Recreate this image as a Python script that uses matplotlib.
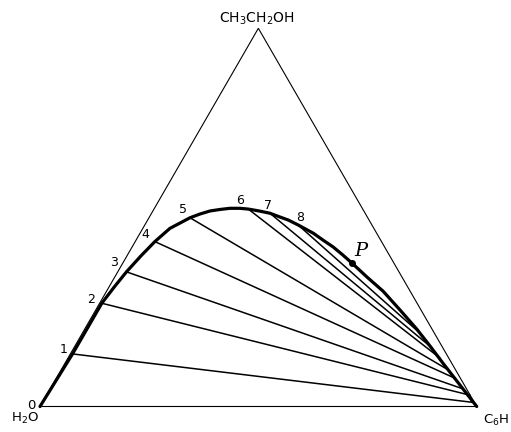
import matplotlib.pyplot as plt
import numpy as np

# binodal curve, in % ethanol and % benzene (water is the rest)
curve_ethanol = [0.0, 13.9, 27.3, 31.6, 35.6, 39.8, 43.6, 47.1, 49.9, 50.9, 51.7,
                 52.1, 52.4, 52.4, 52.2, 51.7, 51.1, 50.1, 49.3, 48.0, 45.8, 44.0,
                 42.2, 40.2, 37.9, 34.2, 30.5, 25.5, 20.5, 16.0, 11.4, 5.7, 0.0]
curve_benzene = [0.0, 0.5, 0.5, 1.2, 2.0, 3.2, 4.5, 6.2, 9.4, 11.2, 13.1,
                 15.2, 17.3, 19.6, 21.6, 24.3, 27.1, 29.9, 32.2, 35.1, 39.7, 42.8,
                 46.0, 49.1, 52.5, 57.8, 63.3, 69.7, 76.0, 81.3, 86.6, 93.3, 100.0]

# tie lines: water-rich end (numbered points) and benzene-rich end
tie_labels = ["1", "2", "3", "4", "5", "6", "7", "8"]
tie_left_ethanol = [13.9, 27.3, 35.6, 43.6, 49.9, 52.2, 51.1, 48.0]
tie_left_benzene = [0.5, 0.5, 2.0, 4.5, 9.4, 21.6, 27.1, 35.1]
tie_right_ethanol = [1.1, 3.0, 4.7, 7.5, 9.9, 12.8, 15.5, 19.4]
tie_right_benzene = [98.5, 96.9, 94.4, 91.2, 88.2, 85.2, 82.0, 77.3]

# plait point P
plait_ethanol = 37.9
plait_benzene = 52.5

# corners: water, benzene, ethanol
corner_ethanol = [0, 0, 100, 0]
corner_benzene = [0, 100, 0, 0]


def to_xy(ethanol, benzene):
    e = np.asarray(ethanol, dtype=float) / 100.0
    b = np.asarray(benzene, dtype=float) / 100.0
    return b + e / 2.0, e * np.sqrt(3) / 2.0


fig = plt.figure(figsize=(5.11, 4.32), dpi=100)
ax = fig.add_axes([0, 0, 1, 1])
ax.set_xlim(-0.0916, 1.0785)
ax.set_ylim(-0.0584, 0.9308)
ax.axis("off")

# triangle
tx, ty = to_xy(corner_ethanol, corner_benzene)
ax.plot(tx, ty, color="black", lw=0.8, solid_joinstyle="miter")

# tie lines
lx, ly = to_xy(tie_left_ethanol, tie_left_benzene)
rx, ry = to_xy(tie_right_ethanol, tie_right_benzene)
for i in range(len(tie_labels)):
    ax.plot([lx[i], rx[i]], [ly[i], ry[i]], color="black", lw=1.1)

# binodal curve
cx, cy = to_xy(curve_ethanol, curve_benzene)
ax.plot(cx, cy, color="black", lw=2.3, solid_joinstyle="round", solid_capstyle="round")

# point labels
label_offsets = [(-9, 4), (-11, 4), (-12, 9), (-10, 7), (-7, 8), (-8, 9), (-2, 8), (2, 7)]
for i, lab in enumerate(tie_labels):
    ax.annotate(lab, (lx[i], ly[i]), xytext=label_offsets[i], textcoords="offset pixels",
                ha="center", va="center", fontsize=9)
ax.annotate("0", (0, 0), xytext=(-9, 1), textcoords="offset pixels",
            ha="center", va="center", fontsize=9.5)

# plait point
px, py = to_xy(plait_ethanol, plait_benzene)
ax.plot(px, py, "o", color="black", ms=4)
ax.annotate("P", (px, py), xytext=(9, 12), textcoords="offset pixels",
            ha="center", va="center", fontsize=14, style="italic", family="DejaVu Serif")

# corner names
ax.annotate("CH$_3$CH$_2$OH", (tx[2], ty[2]), xytext=(-2, 9), textcoords="offset pixels",
            ha="center", va="center", fontsize=10)
ax.annotate("H$_2$O", (tx[0], ty[0]), xytext=(-15, -12), textcoords="offset pixels",
            ha="center", va="center", fontsize=9.5)
ax.annotate("C$_6$H", (tx[1], ty[1]), xytext=(6, -14), textcoords="offset pixels",
            ha="left", va="center", fontsize=9.5)

fig.savefig("out.png", dpi=100)
